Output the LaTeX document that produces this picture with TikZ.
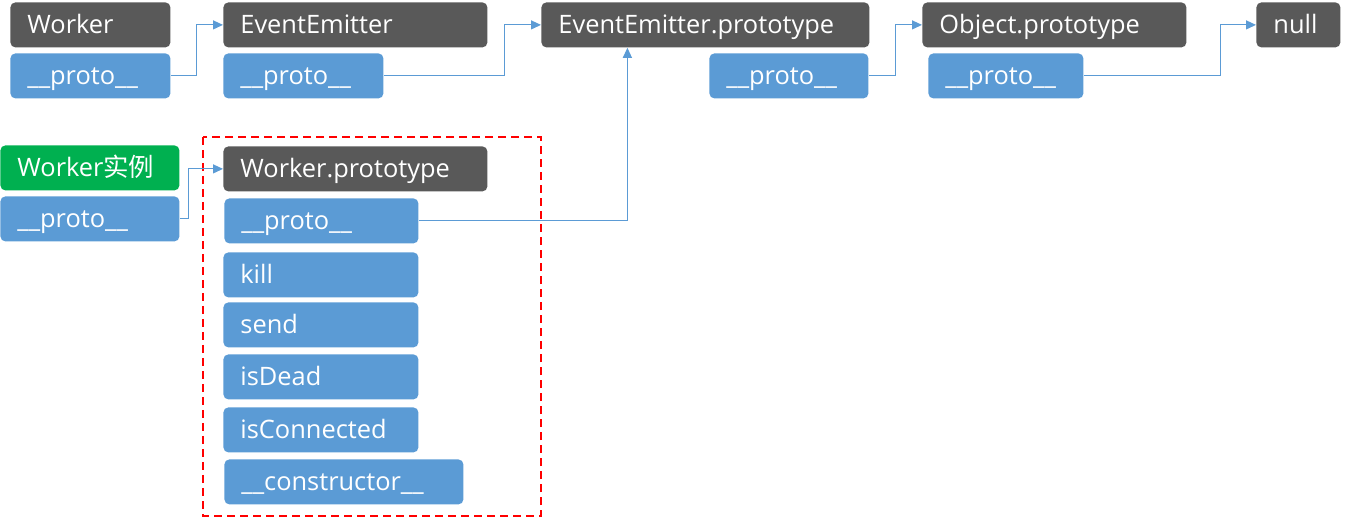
\documentclass[tikz,border=0pt]{standalone}
\usepackage{fontspec}
\setmainfont{Open Sans}
\newfontfamily\cjkfont{Noto Sans CJK SC}
\usetikzlibrary{arrows.meta,positioning,calc}

\definecolor{objgray}{HTML}{595959}
\definecolor{protoblue}{HTML}{5B9BD5}
\definecolor{instgreen}{HTML}{00B050}

\tikzset{
  obj/.style={rectangle, rounded corners=2.5pt, anchor=north west, text=white,
              inner xsep=8.5pt, inner ysep=0pt, minimum height=22.5pt,
              text height=9.5pt, text depth=1pt,
              align=left, font=\fontsize{12.7}{15}\selectfont},
  grayobj/.style={obj, fill=objgray},
  blueobj/.style={obj, fill=protoblue},
  greenobj/.style={obj, fill=instgreen},
  link/.style={draw=protoblue, line width=0.6pt, -{Triangle[length=5pt,width=4.5pt]}}
}

\begin{document}
\begin{tikzpicture}[x=0.5pt, y=-0.5pt]
  \useasboundingbox (0,0) rectangle (1345,518);

  % top chain
  \node[grayobj, text width=63pt] (worker) at (10,2) {Worker};
  \node[blueobj, text width=63pt] (wproto) at (10,53) {\_\_proto\_\_};

  \node[grayobj, text width=115pt] (emitter) at (223,2) {EventEmitter};
  \node[blueobj, text width=63pt] (eproto) at (223,53) {\_\_proto\_\_};

  \node[grayobj, text width=147pt] (emitterproto) at (541,2) {EventEmitter.prototype};
  \node[blueobj, text width=62.5pt] (epproto) at (709,53) {\_\_proto\_\_};

  \node[grayobj, text width=115pt] (objproto) at (922,2) {Object.prototype};
  \node[blueobj, text width=60.5pt] (opproto) at (928,53) {\_\_proto\_\_};

  \node[grayobj, text width=25pt] (null) at (1256,2) {null};

  % instance and Worker.prototype
  \node[greenobj, text width=72.5pt] (instance) at (0,145) {Worker{\cjkfont 实例}};
  \node[blueobj, text width=72.5pt] (iproto) at (0,196) {\_\_proto\_\_};

  \draw[red, line width=1pt, dash pattern=on 4pt off 2.5pt] (203,137) rectangle (541,516);

  \node[grayobj, text width=115pt] (workerproto) at (223,146) {Worker.prototype};
  \node[blueobj, text width=80pt] (wpproto) at (224,198) {\_\_proto\_\_};
  \node[blueobj, text width=80.5pt] (kill) at (223,252) {kill};
  \node[blueobj, text width=80.5pt] (send) at (223,302) {send};
  \node[blueobj, text width=80.5pt] (isdead) at (223,354) {isDead};
  \node[blueobj, text width=80.5pt] (isconn) at (223,407) {isConnected};
  \node[blueobj, text width=102.5pt] (ctor) at (224,459) {\_\_constructor\_\_};

  % prototype links
  \draw[link] (wproto.east) -- ++(26,0) |- (emitter.west);
  \draw[link] (eproto.east) -- ++(121,0) |- (emitterproto.west);
  \draw[link] (epproto.east) -- ++(27,0) |- (objproto.west);
  \draw[link] (opproto.east) -- ++(137,0) |- (null.west);
  \draw[link] (iproto.east) -- ++(9,0) |- (workerproto.west);
  \draw[link] (wpproto.east) -| ([xshift=-39pt]emitterproto.south);
\end{tikzpicture}
\end{document}
